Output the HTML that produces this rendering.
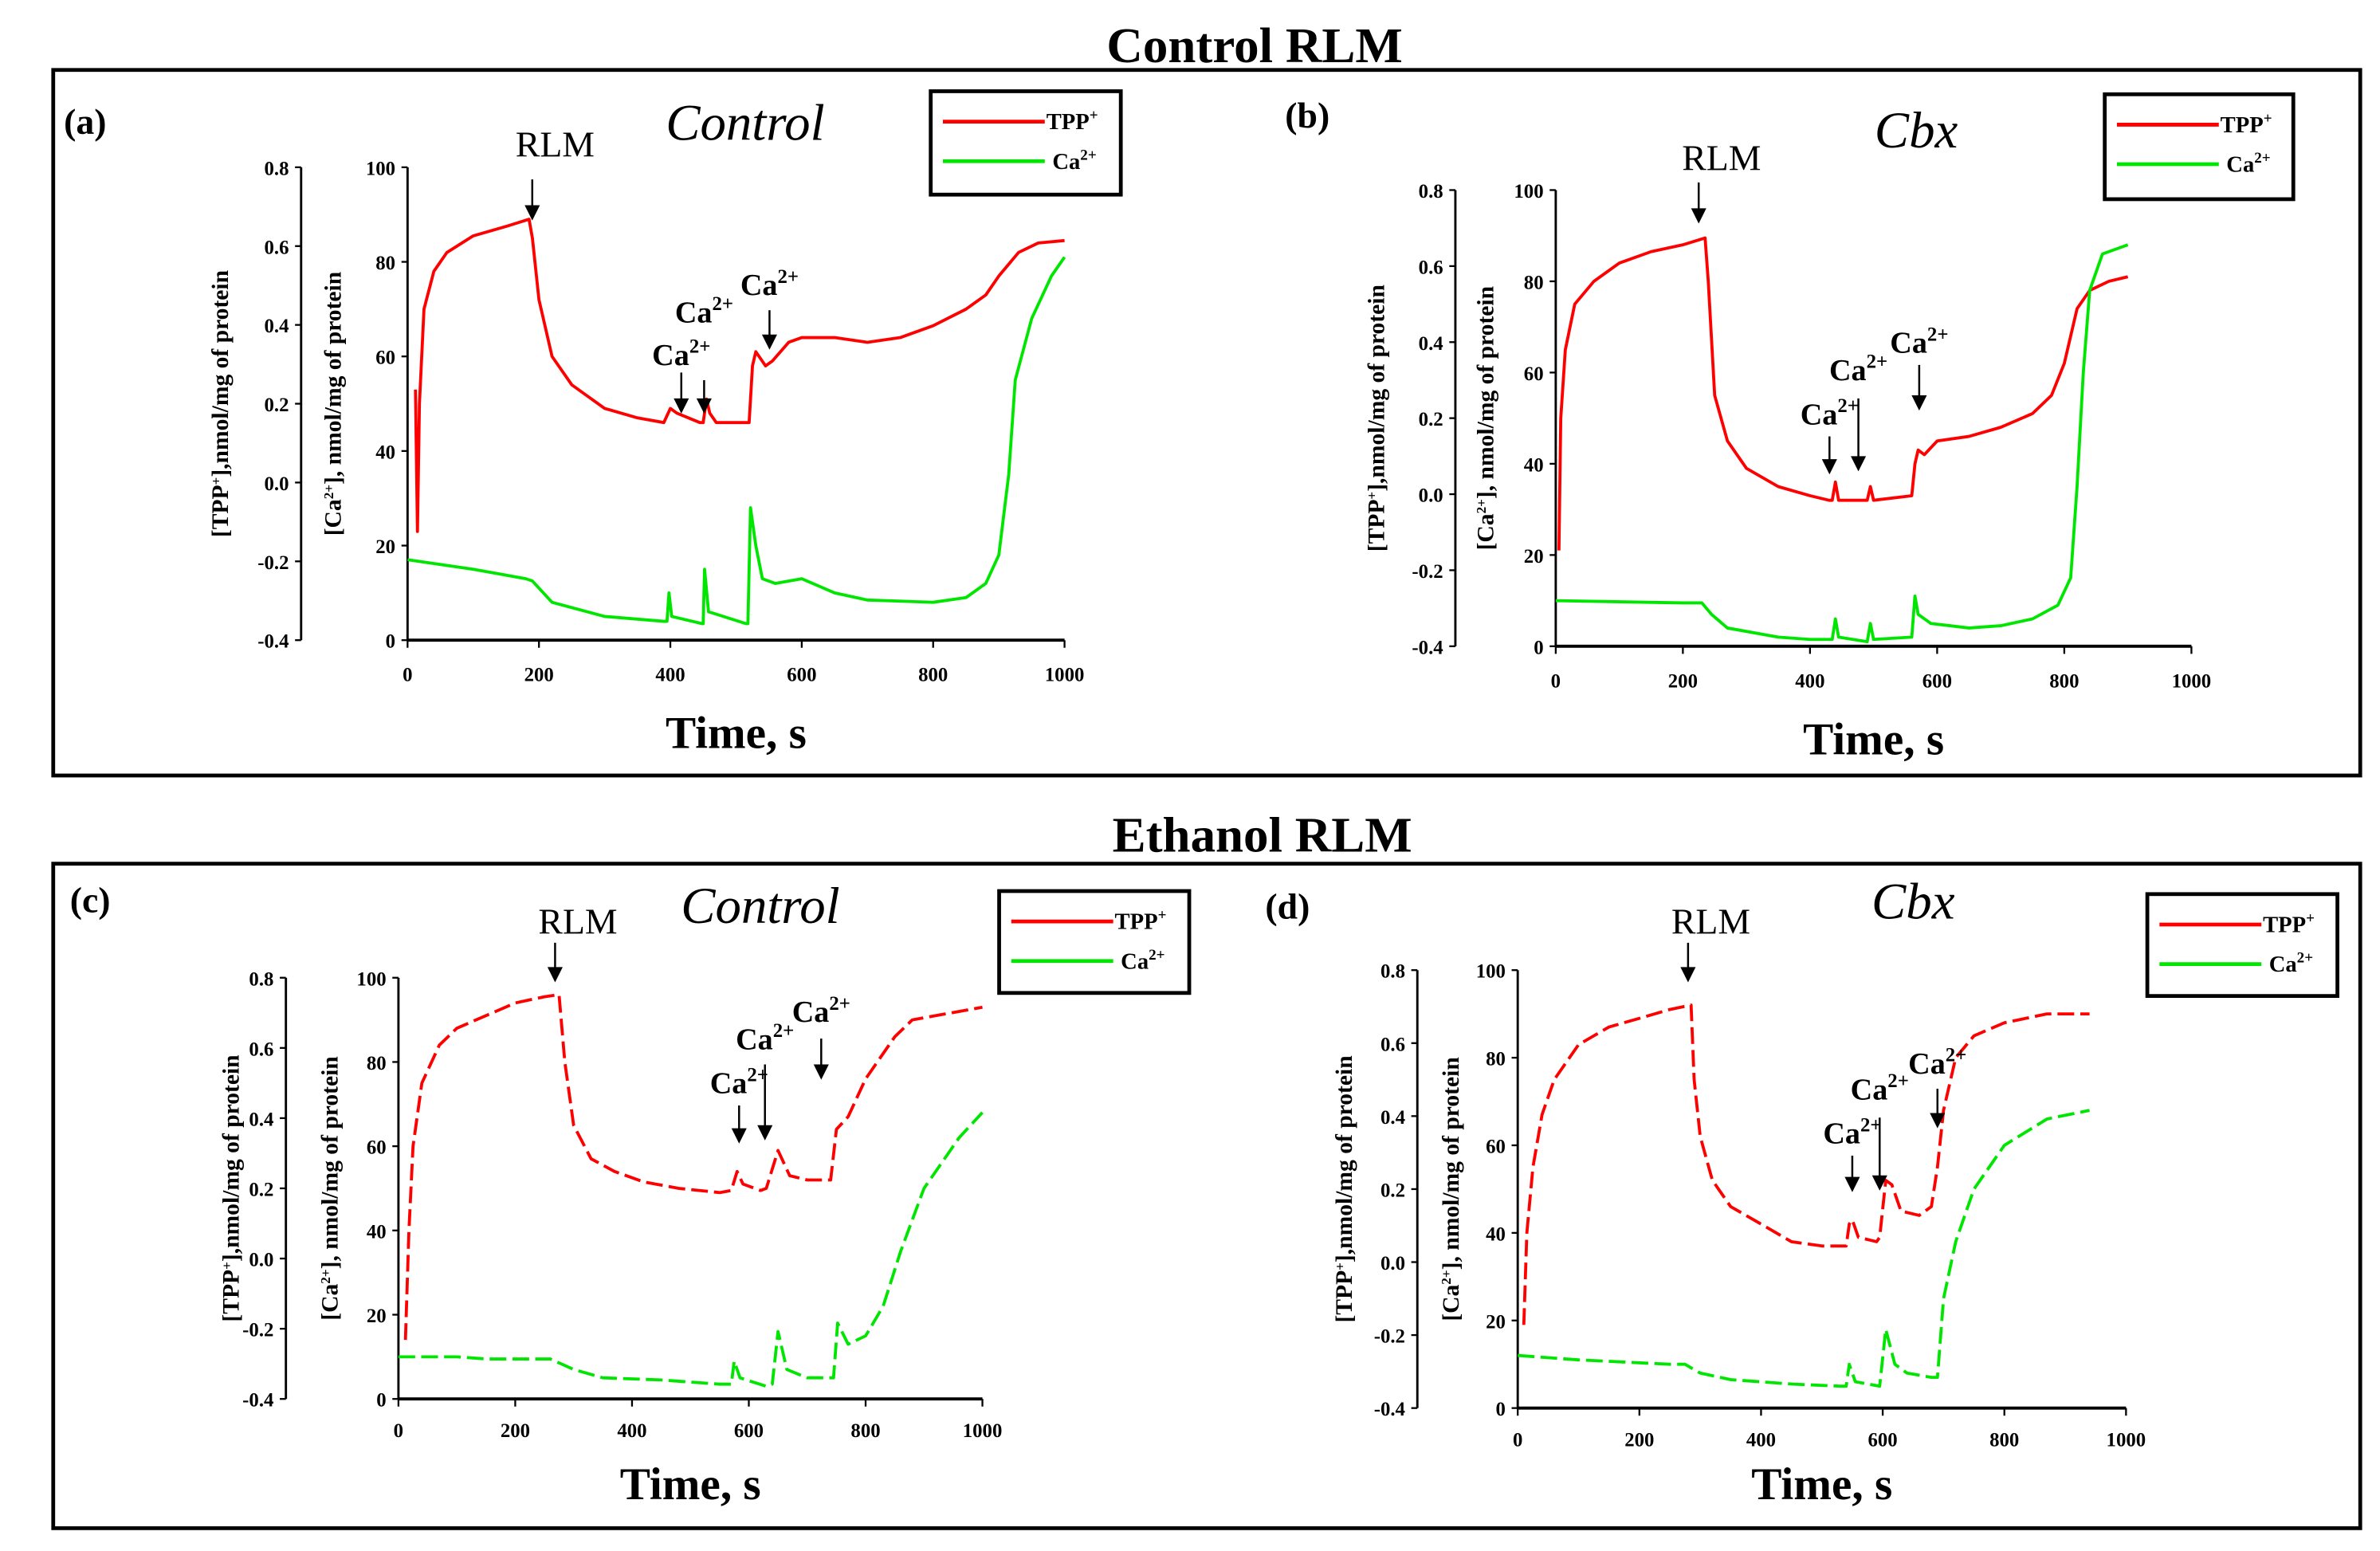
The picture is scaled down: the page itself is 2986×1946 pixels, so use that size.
<!DOCTYPE html>
<html><head><meta charset="utf-8">
<style>
html,body{margin:0;padding:0;background:#fff;}
svg{display:block;}
text{font-family:"Liberation Serif",serif;}
</style></head>
<body>
<svg id="fig" width="2986" height="1946" viewBox="0 0 1565 1020" preserveAspectRatio="none" xmlns="http://www.w3.org/2000/svg">
<rect x="0" y="0" width="1565" height="1020" fill="#fff"/>
<text x="825" y="41" text-anchor="middle" font-size="33" font-weight="bold">Control RLM</text>
<rect x="35" y="46" width="1517" height="464" fill="none" stroke="#000" stroke-width="2.5"/>
<text x="830" y="560" text-anchor="middle" font-size="33" font-weight="bold">Ethanol RLM</text>
<rect x="35" y="568" width="1517" height="437" fill="none" stroke="#000" stroke-width="2.5"/>
</svg>
<script>
// ---- Data (time in s; red series read in units of the Ca axis, green in nmol/mg) ----
const xTicks = [0, 200, 400, 600, 800, 1000];
const caTicks = [0, 20, 40, 60, 80, 100];
const tppTicks = ["-0.4", "-0.2", "0.0", "0.2", "0.4", "0.6", "0.8"];

const aRedT = [12,15,18,25,40,60,100,150,185,190,200,220,250,300,350,390,400,410,445,450,455,460,470,520,525,530,545,555,580,600,650,700,750,800,850,880,900,930,960,1000];
const aRedV = [53,23,50,70,78,82,85.5,87.5,89,85,72,60,54,49,47,46,49,48,46,46,51,48,46,46,58,61,58,59,63,64,64,63,64,66.5,70,73,77,82,84,84.5];
const aGreenT = [0,100,180,190,220,300,390,395,398,402,448,450,452,458,515,518,522,530,540,560,600,650,700,800,850,880,900,915,925,950,980,1000];
const aGreenV = [17,15,13,12.5,8,5,4,4,10,5,3.5,3.5,15,6,3.5,3.5,28,20,13,12,13,10,8.5,8,9,12,18,35,55,68,77,81];

const bRedT = [5,8,15,30,60,100,150,200,235,240,250,270,300,350,400,430,435,440,445,490,495,500,560,565,570,580,600,650,700,750,780,800,820,840,870,900];
const bRedV = [21,50,65,75,80,84,86.5,88,89.5,80,55,45,39,35,33,32,32,36,32,32,35,32,33,40,43,42,45,46,48,51,55,62,74,78,80,81];
const bGreenT = [0,200,230,245,270,350,400,435,440,445,490,495,500,560,565,570,590,620,650,700,750,790,810,820,830,840,860,900];
const bGreenV = [10,9.5,9.5,7,4,2,1.5,1.5,6,2,1,5,1.5,2,11,7,5,4.5,4,4.5,6,9,15,35,60,78,86,88];

const cRedT = [12,18,25,40,70,100,150,200,250,275,285,300,330,370,420,480,550,570,580,590,620,630,650,670,700,740,750,770,800,850,880,1000];
const cRedV = [14,40,60,75,84,88,91,94,95.5,96,80,65,57,54,51.5,50,49,49.5,54,51,49.5,50,59,53,52,52,64,67,76,86,90,93];
const cGreenT = [0,100,150,260,300,350,450,550,570,575,585,630,640,650,665,700,740,745,752,770,800,830,860,900,960,1000];
const cGreenV = [10,10,9.5,9.5,7,5,4.5,3.5,3.5,9,5,3,3.5,16,7,5,5,5,18,13,15,22,35,50,62,68];

const dRedT = [10,15,25,40,60,100,150,200,250,285,290,300,320,350,400,450,500,540,545,550,560,590,595,605,615,630,660,680,690,700,720,750,800,870,940];
const dRedV = [19,40,55,67,75,83,87,89,91,92,75,62,52,46,42,38,37,37,42,43,39,38,39,52,51,45,44,46,55,68,80,85,88,90,90];
const dGreenT = [0,100,250,275,300,350,450,530,540,545,555,595,605,620,640,680,690,700,720,750,800,870,940];
const dGreenV = [12,11,10,10,8,6.5,5.5,5,5,10,6,5,18,10,8,7,7,25,38,50,60,66,68];

const NS = "http://www.w3.org/2000/svg";
const svg = document.getElementById('fig');
function mk(tag, attrs, parent) {
  const e = document.createElementNS(NS, tag);
  for (const k in attrs) e.setAttribute(k, attrs[k]);
  (parent || svg).appendChild(e);
  return e;
}
function txt(x, y, s, size, extra, parent) {
  const e = mk('text', Object.assign({x: x, y: y, 'font-size': size}, extra || {}), parent);
  e.innerHTML = s;
  return e;
}

const panels = [
  {id:'a', label:'(a)', lx:42, ly:88, cond:'Control', cx:490, cy:92, ax:268, tx:198, y0:421, y100:110, x1000:700, leg:[612,60,125,68], dash:false,
   redT:aRedT, redV:aRedV, greenT:aGreenT, greenV:aGreenV, timeY:492, tickY:448,
   rlm:[350,103,118,145], cas:[[448,240,245,272],[463,212,250,272],[506,194,204,230]], tt1:150, tt2:224},
  {id:'b', label:'(b)', lx:845, ly:84, cond:'Cbx', cx:1260, cy:97, ax:1023, tx:957, y0:425, y100:125, x1000:1441, leg:[1384,62,124,69], dash:false,
   redT:bRedT, redV:bRedV, greenT:bGreenT, greenV:bGreenV, timeY:496, tickY:452,
   rlm:[1117,112,120,147], cas:[[1203,279,287,312],[1222,250,262,310],[1262,232,240,270]], tt1:910, tt2:982},
  {id:'c', label:'(c)', lx:46, ly:600, cond:'Control', cx:500, cy:607, ax:262, tx:188, y0:920, y100:643, x1000:646, leg:[657,586,125,67], dash:true,
   redT:cRedT, redV:cRedV, greenT:cGreenT, greenV:cGreenV, timeY:986, tickY:945,
   rlm:[365,614,620,646], cas:[[486,719,727,752],[503,690,700,750],[540,672,683,710]], tt1:157, tt2:222},
  {id:'d', label:'(d)', lx:832, ly:604, cond:'Cbx', cx:1258, cy:604, ax:998, tx:932, y0:926, y100:638, x1000:1398, leg:[1412,588,125,67], dash:true,
   redT:dRedT, redV:dRedV, greenT:dGreenT, greenV:dGreenV, timeY:986, tickY:951,
   rlm:[1110,614,620,646], cas:[[1218,752,760,784],[1236,723,735,783],[1274,706,716,742]], tt1:889, tt2:959}
];

panels.forEach(p => {
  const g = mk('g', {});
  
  
  const xs = t => p.ax + (t / 1000) * (p.x1000 - p.ax);
  const ys = v => p.y0 - (v / 100) * (p.y0 - p.y100);

  let e = txt(p.lx, p.ly, p.label, 24, {'font-weight':'bold'}, g);
  
  
  e = txt(p.cx, p.cy, p.cond, 34, {'font-style':'italic','text-anchor':'middle'}, g);
  
  

  e = mk('line', {x1:p.ax, y1:p.y100, x2:p.ax, y2:p.y0, stroke:'#000', 'stroke-width':1.5}, g);
  
  
  e = mk('line', {x1:p.tx, y1:p.y100, x2:p.tx, y2:p.y0, stroke:'#000', 'stroke-width':1.5}, g);
  
  
  e = mk('line', {x1:p.ax, y1:p.y0, x2:p.x1000, y2:p.y0, stroke:'#000', 'stroke-width':2}, g);
  
  

  caTicks.forEach(v => {
    const y = ys(v);
    mk('line', {x1:p.ax-4, y1:y, x2:p.ax, y2:y, stroke:'#000', 'stroke-width':1.2}, g);
    e = txt(p.ax-8, y+5, String(v), 13, {'font-weight':'bold','text-anchor':'end'}, g);
    
    
  });
  tppTicks.forEach((s, i) => {
    const y = p.y0 - i / (tppTicks.length - 1) * (p.y0 - p.y100);
    mk('line', {x1:p.tx-4, y1:y, x2:p.tx, y2:y, stroke:'#000', 'stroke-width':1.2}, g);
    e = txt(p.tx-8, y+5, s, 13, {'font-weight':'bold','text-anchor':'end'}, g);
    
    
  });
  xTicks.forEach(v => {
    const x = xs(v);
    mk('line', {x1:x, y1:p.y0, x2:x, y2:p.y0+5, stroke:'#000', 'stroke-width':1.2}, g);
    e = txt(x, p.tickY, String(v), 13, {'font-weight':'bold','text-anchor':'middle'}, g);
    
    
  });
  const midY = (p.y0 + p.y100) / 2;
  e = txt(p.tt1, midY, '[TPP<tspan font-size="9" dy="-5">+</tspan><tspan dy="5">],nmol/mg of protein</tspan>', 15.5,
    {'font-weight':'bold','text-anchor':'middle', transform:'rotate(-90 '+p.tt1+' '+midY+')'}, g);
  
  
  e = txt(p.tt2, midY, '[Ca<tspan font-size="9" dy="-5">2+</tspan><tspan dy="5">], nmol/mg of protein</tspan>', 15.5,
    {'font-weight':'bold','text-anchor':'middle', transform:'rotate(-90 '+p.tt2+' '+midY+')'}, g);
  
  
  e = txt((p.ax + p.x1000) / 2, p.timeY, 'Time, s', 30, {'font-weight':'bold','text-anchor':'middle'}, g);
  
  

  const dash = p.dash ? {'stroke-dasharray':'11 4'} : {};
  const ptsR = p.redT.map((t, i) => xs(t).toFixed(1) + ',' + ys(p.redV[i]).toFixed(1)).join(' ');
  e = mk('polyline', Object.assign({points:ptsR, fill:'none', stroke:'#ff0000', 'stroke-width':2, 'stroke-linejoin':'round'}, dash), g);
  
  
  const ptsG = p.greenT.map((t, i) => xs(t).toFixed(1) + ',' + ys(p.greenV[i]).toFixed(1)).join(' ');
  e = mk('polyline', Object.assign({points:ptsG, fill:'none', stroke:'#00e600', 'stroke-width':2, 'stroke-linejoin':'round'}, dash), g);
  
  

  const arrow = (x, y1, y2) => {
    mk('line', {x1:x, y1:y1, x2:x, y2:y2-8, stroke:'#000', 'stroke-width':1.3}, g);
    mk('polygon', {points:(x-5)+','+(y2-10)+' '+(x+5)+','+(y2-10)+' '+x+','+y2, fill:'#000'}, g);
  };
  e = txt(p.rlm[0]+15, p.rlm[1], 'RLM', 24, {'text-anchor':'middle'}, g);
  
  
  arrow(p.rlm[0], p.rlm[2], p.rlm[3]);
  p.cas.forEach(c => {
    e = txt(c[0], c[1], 'Ca<tspan font-size="13" dy="-8">2+</tspan>', 20, {'font-weight':'bold','text-anchor':'middle'}, g);
    
    
    arrow(c[0], c[2], c[3]);
  });

  const L = p.leg;
  const lg = mk('g', {}, g);
  
  
  mk('rect', {x:L[0], y:L[1], width:L[2], height:L[3], fill:'#fff', stroke:'#000', 'stroke-width':2.5}, lg);
  e = mk('line', {x1:L[0]+8, y1:L[1]+20, x2:L[0]+75, y2:L[1]+20, stroke:'#ff0000', 'stroke-width':2.5}, lg);
  
  
  e = txt(L[0]+76, L[1]+25, 'TPP<tspan font-size="10" dy="-6">+</tspan>', 15, {'font-weight':'bold'}, lg);
  
  
  e = mk('line', {x1:L[0]+8, y1:L[1]+46, x2:L[0]+75, y2:L[1]+46, stroke:'#00e600', 'stroke-width':2.5}, lg);
  
  
  e = txt(L[0]+80, L[1]+51, 'Ca<tspan font-size="10" dy="-6">2+</tspan>', 15, {'font-weight':'bold'}, lg);
  
  
});
</script>
</body></html>
